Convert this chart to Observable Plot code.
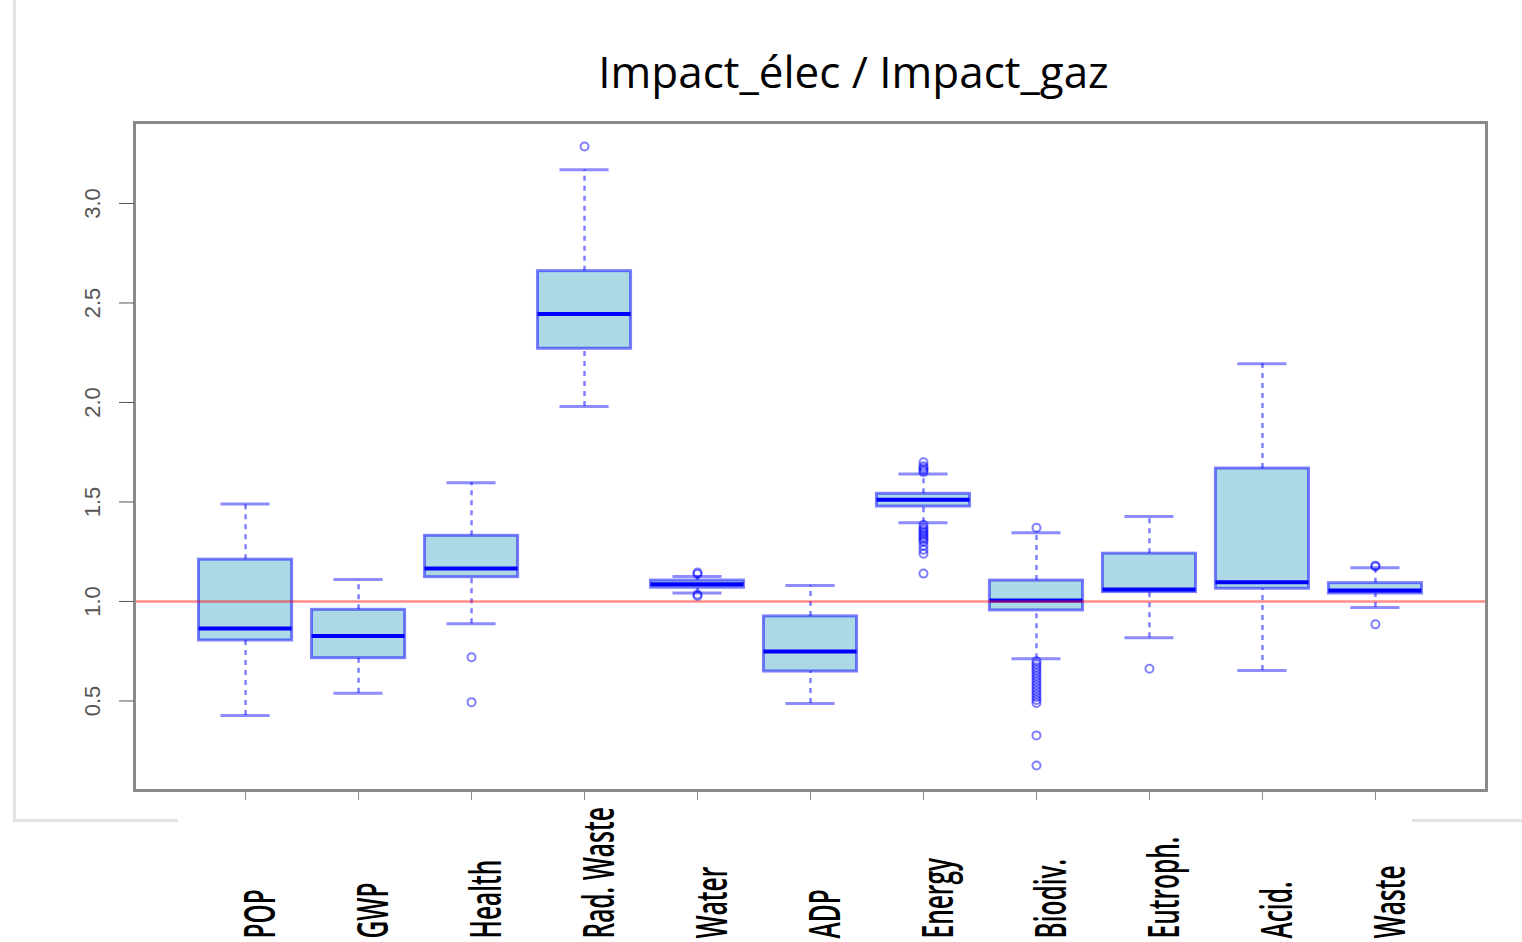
<!DOCTYPE html>
<html><head><meta charset="utf-8">
<script src="https://cdn.jsdelivr.net/npm/d3@7"></script>
<script src="https://cdn.jsdelivr.net/npm/@observablehq/plot@0.6"></script>
<style>
body{margin:0;background:#fff;}
#wrap{position:relative;width:1522px;height:942px;overflow:hidden;}
.deco{position:absolute;background:#e3e3e3;pointer-events:none;}
</style></head><body>
<div id="wrap">
<div id="chart"></div>
<div class="deco" style="left:13px;top:0;width:3px;height:822px"></div>
<div class="deco" style="left:13px;top:819px;width:165px;height:3px"></div>
<div class="deco" style="left:1412px;top:819px;width:110px;height:3px"></div>
</div>
<script>
const title = "Impact_élec / Impact_gaz";
const categories = ["POP","GWP","Health","Rad. Waste","Water","ADP","Energy","Biodiv.","Eutroph.","Acid.","Waste"];
const whiskerLow  = [0.427,0.539,0.888,1.98, 1.042,0.487,1.395,0.712,0.818,0.653,0.97];
const q1          = [0.804,0.715,1.122,2.27, 1.069,0.648,1.477,0.955,1.047,1.064,1.04];
const median      = [0.864,0.826,1.166,2.444,1.087,0.749,1.511,1.005,1.06, 1.097,1.055];
const q3          = [1.21, 0.958,1.33, 2.66, 1.105,0.925,1.541,1.105,1.24, 1.668,1.092];
const whiskerHigh = [1.49, 1.11, 1.596,3.17, 1.126,1.08, 1.64, 1.345,1.427,2.195,1.17];
const outlierCategory = [
  "Health","Health",
  "Rad. Waste",
  "Water","Water","Water","Water",
  "Energy","Energy","Energy","Energy","Energy",
  "Energy","Energy","Energy","Energy","Energy","Energy","Energy","Energy","Energy","Energy","Energy","Energy","Energy",
  "Biodiv.",
  "Biodiv.","Biodiv.","Biodiv.","Biodiv.","Biodiv.","Biodiv.","Biodiv.","Biodiv.","Biodiv.","Biodiv.","Biodiv.","Biodiv.","Biodiv.","Biodiv.","Biodiv.","Biodiv.","Biodiv.",
  "Eutroph.",
  "Waste","Waste","Waste"
];
const outlierValue = [
  0.72,0.494,
  3.286,
  1.145,1.138,1.035,1.028,
  1.70,1.68,1.67,1.66,1.65,
  1.385,1.37,1.36,1.35,1.34,1.33,1.32,1.31,1.30,1.28,1.26,1.24,1.14,
  1.37,
  0.70,0.685,0.67,0.655,0.64,0.625,0.61,0.595,0.58,0.565,0.55,0.535,0.52,0.505,0.49,0.327,0.176,
  0.662,
  1.176,1.18,0.885
];
const yTicks = [0.5,1.0,1.5,2.0,2.5,3.0];
const referenceLine = [1];

const boxes = categories.map((c,i)=>({cat:c, lo:whiskerLow[i], q1:q1[i], med:median[i], q3:q3[i], hi:whiskerHigh[i]}));
const outliers = outlierValue.map((v,i)=>({cat:outlierCategory[i], v}));

const whisk = {stroke:"blue", strokeOpacity:0.5, strokeWidth:2.5, strokeDasharray:"5,5"};
const cap = {stroke:"blue", strokeOpacity:0.45, strokeWidth:3, inset:22};

const plot = Plot.plot({
  width:1522, height:942,
  marginLeft:134, marginRight:36, marginTop:122, marginBottom:152,
  style:{fontFamily:"'Liberation Sans', Arial, sans-serif", background:"white", overflow:"visible"},
  x:{type:"band", domain:categories, paddingInner:0.176, paddingOuter:0.571, round:false, label:null},
  y:{domain:[0.05,3.407], label:null},
  marks:[
    Plot.ruleX(boxes,{x:"cat", y1:"q3", y2:"hi", ...whisk}),
    Plot.ruleX(boxes,{x:"cat", y1:"lo", y2:"q1", ...whisk}),
    Plot.tickY(boxes,{x:"cat", y:"hi", ...cap}),
    Plot.tickY(boxes,{x:"cat", y:"lo", ...cap}),
    Plot.barY(boxes,{x:"cat", y1:"q1", y2:"q3", fill:"#add8e6", stroke:"blue", strokeOpacity:0.5, strokeWidth:3}),
    Plot.tickY(boxes,{x:"cat", y:"med", stroke:"blue", strokeWidth:4}),
    Plot.dot(outliers,{x:"cat", y:"v", r:4, stroke:"blue", strokeOpacity:0.5, strokeWidth:2, fill:"none"}),
    Plot.ruleY(referenceLine,{stroke:"red", strokeOpacity:0.45, strokeWidth:2.5}),
    Plot.frame({stroke:"#8a8a8a", strokeWidth:3}),
    Plot.axisY(yTicks,{tickSize:15, tickRotate:-90, tickPadding:20, tickFormat:d=>d.toFixed(1), fontSize:22, color:"#555", label:null}),
    Plot.axisX({tickSize:10, tickFormat:()=>"", color:"#888", label:null}),
    Plot.text(categories,{x:d=>d, frameAnchor:"bottom", dy:148, dx:16, rotate:-90, textAnchor:"start", lineAnchor:"middle", fontSize:43, fontWeight:600, fill:"#000", fontFamily:"'Open Sans'"}),
    Plot.text([title],{frameAnchor:"top", dx:43, dy:-35, lineAnchor:"bottom", fontSize:44, fontFamily:"'Open Sans'", fill:"black"})
  ]
});
document.getElementById("chart").appendChild(plot);
plot.querySelectorAll("text").forEach(t=>{
  if (categories.includes(t.textContent) && (t.getAttribute("transform")||"").includes("rotate")) {
    t.setAttribute("transform", t.getAttribute("transform") + " scale(0.57,1)");
  }
});
</script>
</body></html>
